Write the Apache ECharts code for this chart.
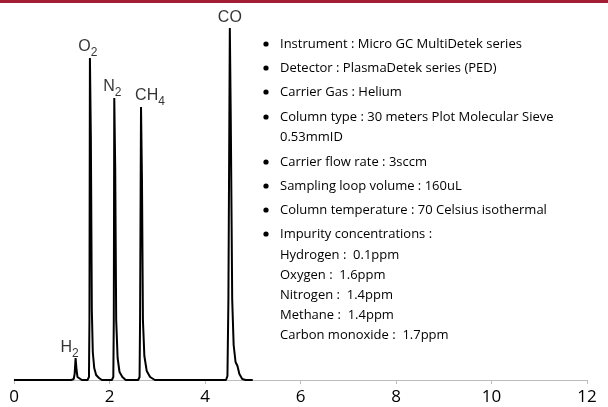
<!DOCTYPE html>
<html><head><meta charset="utf-8">
<script src="https://cdn.jsdelivr.net/npm/echarts@6/dist/echarts.min.js"></script>
<style>html,body{margin:0;padding:0;background:#fff}#c{width:608px;height:407px}</style>
</head><body><div id="c"></div>
<script>
// Retention time (min) ticks
const xTicks = [0, 2, 4, 6, 8, 10, 12];
// Chromatogram trace: [time, signal]
const signal = [
  [0.00,0],[1.20,0],[1.25,1],[1.27,6],[1.29,22],[1.31,10],[1.33,3],[1.37,1],[1.42,0],
  [1.54,0],[1.57,3],[1.58,60],[1.59,322],[1.61,240],[1.63,70],[1.65,28],[1.68,12],[1.72,5],[1.78,2],[1.84,0],
  [2.05,0],[2.08,3],[2.09,60],[2.10,282],[2.12,210],[2.14,60],[2.17,22],[2.21,8],[2.27,3],[2.34,0],
  [2.60,0],[2.63,3],[2.64,60],[2.66,273],[2.68,200],[2.70,60],[2.73,24],[2.78,9],[2.85,3],[2.95,0],
  [4.44,0],[4.47,4],[4.49,80],[4.52,352],[4.54,260],[4.57,80],[4.60,35],[4.64,18],[4.68,14],[4.72,6],[4.78,1],[4.85,0],
  [5.00,0]
];
// Peak labels
const peakNames = [['H','2'],['O','2'],['N','2'],['CH','4'],['CO','']];
const peakPos = [[1.29,22],[1.59,322],[2.10,282],[2.66,273],[4.52,352]];
const labelShift = [[-6,3],[-2,2],[-2,2],[9,2],[0,3]];
// Conditions text
const infoLines = [
  ['b','Instrument : Micro GC MultiDetek series'],
  ['b','Detector : PlasmaDetek series (PED)'],
  ['b','Carrier Gas : Helium'],
  ['b','Column type : 30 meters Plot Molecular Sieve'],
  ['c','0.53mmID'],
  ['b','Carrier flow rate : 3sccm'],
  ['b','Sampling loop volume : 160uL'],
  ['b','Column temperature : 70 Celsius isothermal'],
  ['b','Impurity concentrations :'],
  ['c','Hydrogen :  0.1ppm'],
  ['c','Oxygen :  1.6ppm'],
  ['c','Nitrogen :  1.4ppm'],
  ['c','Methane :  1.4ppm'],
  ['c','Carbon monoxide :  1.7ppm']
];
const infoY = [44,68,92,117,137,162,186,210,234,255,275,295,315,335];

const chart = echarts.init(document.getElementById('c'), null, {renderer:'canvas'});
const textFont = 'Open Sans';
const gfx = [{type:'rect', shape:{x:0,y:0,width:608,height:3}, style:{fill:'#a41d37'}, silent:true}];
infoLines.forEach((l,i)=>{
  if(l[0]==='b') gfx.push({type:'circle', shape:{cx:266, cy:infoY[i], r:2.6}, style:{fill:'#000'}});
  gfx.push({type:'text', x:280, y:infoY[i], style:{text:l[1], fill:'#000', font:'13px "'+textFont+'"', textVerticalAlign:'middle'}});
});

chart.setOption({
  animation:false,
  grid:{left:14, right:21, top:20, bottom:27},
  xAxis:{type:'value', min:0, max:12, interval:2,
    axisLine:{lineStyle:{color:'#bdbdbd', width:1}},
    axisTick:{show:true, length:4, lineStyle:{color:'#bdbdbd'}},
    splitLine:{show:false},
    axisLabel:{color:'#000', fontSize:17, fontFamily:textFont, margin:9,
      formatter:v=>xTicks.includes(v)?String(v):''}},
  yAxis:{type:'value', min:0, max:360, show:false, splitLine:{show:false}},
  series:[
    {type:'line', data:signal, showSymbol:false, symbol:'none', smooth:false,
     lineStyle:{color:'#000', width:2}, z:3},
    {type:'scatter', symbolSize:0, z:4,
     data:peakPos.map((p,i)=>({value:p, label:{offset:labelShift[i],
        formatter:'{n|'+peakNames[i][0]+'}'+(peakNames[i][1]?'{s|'+peakNames[i][1]+'}':'')}})),
     label:{show:true, position:'top', color:'#000',
       rich:{n:{fontSize:16, fontFamily:'Liberation Sans', color:'#000', verticalAlign:'bottom', lineHeight:20},
             s:{fontSize:12, fontFamily:'Liberation Sans', color:'#000', verticalAlign:'bottom', lineHeight:12, padding:[0,0,-4,0]}}}}
  ],
  graphic:gfx
});
</script></body></html>
